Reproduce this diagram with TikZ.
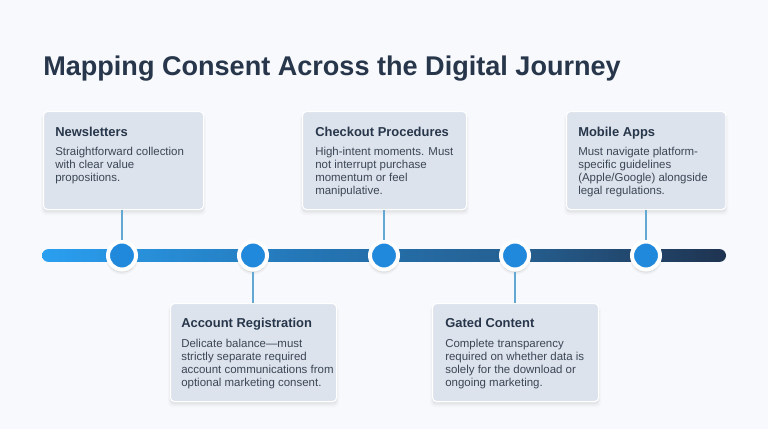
\documentclass[tikz,border=0pt]{standalone}
\usepackage{xcolor}
\usepackage{fontspec}
\setmainfont{Liberation Sans}
\usetikzlibrary{shapes,arrows,positioning,calc,shadows}

\definecolor{pagebg}{HTML}{F7F9FC}
\definecolor{cardbg}{HTML}{DDE3EC}
\definecolor{inkdark}{HTML}{27364A}
\definecolor{inkbody}{HTML}{3B4656}
\definecolor{dotblue}{HTML}{2089DC}
\definecolor{stemblue}{HTML}{62A8D2}
\definecolor{barA}{HTML}{2A9FF0}
\definecolor{barB}{HTML}{2475B4}
\definecolor{barC}{HTML}{255F90}
\definecolor{barD}{HTML}{1F3350}
\pgfdeclarehorizontalshading{barfade}{100bp}{
  color(0bp)=(barA); color(25bp)=(barA); color(45bp)=(barB);
  color(60bp)=(barC); color(75bp)=(barD); color(100bp)=(barD)}

\begin{document}
\begin{tikzpicture}[x=0.75pt, y=-0.75pt,
    softshadow/.style={
      general shadow={shadow xshift=0pt, shadow yshift=-3pt, shadow scale=1.03, opacity=0.02, fill=black},
      general shadow={shadow xshift=0pt, shadow yshift=-2.5pt, shadow scale=1.015, opacity=0.025, fill=black},
      general shadow={shadow xshift=0pt, shadow yshift=-2pt, shadow scale=1.005, opacity=0.035, fill=black}},
    dotshadow/.style={
      general shadow={shadow xshift=0pt, shadow yshift=-2pt, shadow scale=1.14, opacity=0.04, fill=black},
      general shadow={shadow xshift=0pt, shadow yshift=-1.5pt, shadow scale=1.07, opacity=0.07, fill=black}},
    card/.style={rectangle, draw=white, line width=0.8pt, fill=cardbg, rounded corners=3pt, softshadow,
      inner sep=0pt, anchor=north west},
    cardtitle/.style={anchor=north west, inner sep=0pt, text=inkdark, font=\fontsize{9.7}{11}\selectfont\bfseries},
    cardbody/.style={anchor=north west, inner sep=0pt, text=inkbody, align=left, font=\fontsize{8.6}{9.75}\selectfont},
    stem/.style={stemblue, line width=0.8pt},
    dot/.style={circle, fill=dotblue, draw=white, line width=3pt, minimum size=21pt, inner sep=0pt, dotshadow}]

    \fill[pagebg] (0,0) rectangle (768,429);
    \useasboundingbox (0,0) rectangle (768,429);

    \node[anchor=west, inner sep=0pt, text=inkdark, font=\fontsize{20.3}{25}\selectfont\bfseries] (heading) at (43,69)
        {Mapping Consent Across the Digital Journey};

    % timeline
    \node[rectangle, rounded corners=4.8pt, minimum width=513pt, minimum height=9.6pt, inner sep=0pt,
        shading=barfade, shading angle=0] (bar) at (384,255.5) {};

    \node[dot] (d1) at (122,255.5) {};
    \node[dot] (d2) at (253,255.5) {};
    \node[dot] (d3) at (384,255.5) {};
    \node[dot] (d4) at (515,255.5) {};
    \node[dot] (d5) at (646,255.5) {};

    % cards
    \node[card, minimum width=120pt, minimum height=73.5pt] (c1) at (43,111) {};
    \node[card, minimum width=124.5pt, minimum height=73.5pt] (c2) at (170,303) {};
    \node[card, minimum width=123pt, minimum height=73.5pt] (c3) at (302,111) {};
    \node[card, minimum width=124.5pt, minimum height=73.5pt] (c4) at (432,303) {};
    \node[card, minimum width=119.5pt, minimum height=73.5pt] (c5) at (566,111) {};

    \node[cardtitle] (t1) at (55,127) {Newsletters};
    \node[cardtitle] (t2) at (181,318) {Account Registration};
    \node[cardtitle] (t3) at (315,127) {Checkout Procedures};
    \node[cardtitle] (t4) at (445,318) {Gated Content};
    \node[cardtitle] (t5) at (578,127) {Mobile Apps};

    \node[cardbody] (b1) at (55,146.5) {Straightforward collection\\with clear value\\propositions.};
    \node[cardbody] (b2) at (181,338.5) {Delicate balance—must\\strictly separate required\\account communications from\\optional marketing consent.};
    \node[cardbody] (b3) at (315,146.5) {High-intent moments. Must\\not interrupt purchase\\momentum or feel\\manipulative.};
    \node[cardbody] (b4) at (445,338.5) {Complete transparency\\required on whether data is\\solely for the download or\\ongoing marketing.};
    \node[cardbody] (b5) at (578,146.5) {Must navigate platform-\\specific guidelines\\(Apple/Google) alongside\\legal regulations.};

    \draw[stem] (c1.south -| d1) -- (d1);
    \draw[stem] (d2) -- (c2.north -| d2);
    \draw[stem] (c3.south -| d3) -- (d3);
    \draw[stem] (d4) -- (c4.north -| d4);
    \draw[stem] (c5.south -| d5) -- (d5);

\end{tikzpicture}
\end{document}
